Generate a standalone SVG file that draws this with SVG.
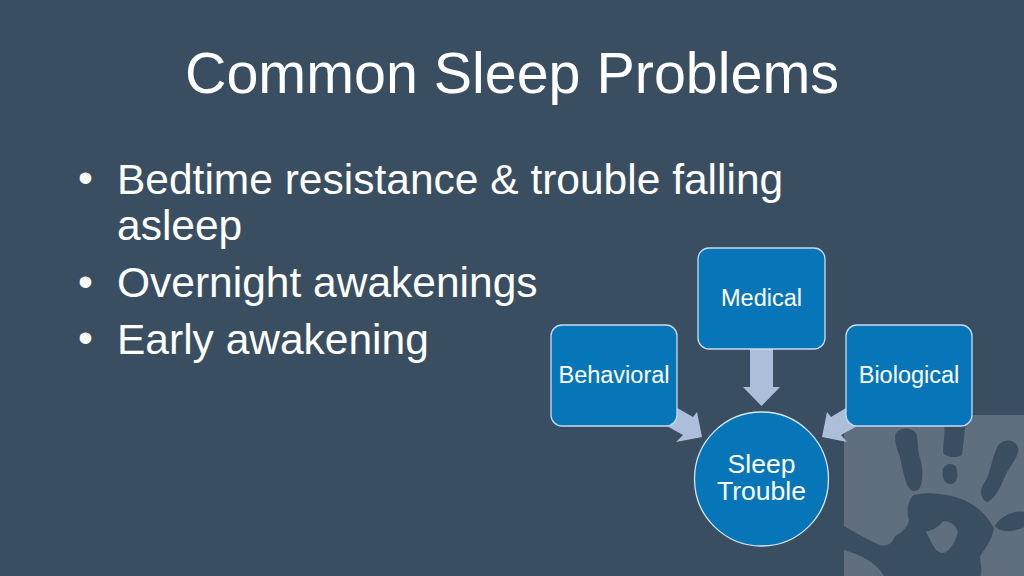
<svg xmlns="http://www.w3.org/2000/svg" width="1024" height="576" viewBox="0 0 1024 576">
<style>
text{font-family:"Liberation Sans",Arial,sans-serif;fill:#fff}
.b{font-size:42.500px}
.n{font-size:23.500px;text-anchor:middle}
.box{fill:#0776b9;stroke:#c5dcf0;stroke-width:1.300}
.ar{fill:#adbedb}
.h{fill:#3a4e61}
</style>
<rect width="1024" height="576" fill="#3a4e61"/>
<g id="handprint">
<rect x="844" y="415" width="180" height="161" fill="#5f6f7f"/>
<g transform="translate(824 400) scale(.3333)" class="h">
<path d="M214 105C218 85 260 75 276 100C284 125 280 150 288 175C298 205 298 250 285 268C265 282 250 265 244 240C236 210 230 180 226 165C216 140 212 125 214 105Z"/>
<path d="M360 60L424 60C422 105 418 135 414 165C395 175 370 172 358 160C355 135 365 110 360 60Z"/>
<path d="M356 210C360 190 390 185 398 205C402 225 402 245 385 252C365 256 352 235 356 210Z"/>
<path d="M520 140C535 115 575 115 583 145C585 170 560 195 545 225C530 260 515 295 490 306C470 300 465 270 480 250C495 235 505 170 520 140Z"/>
<path d="M60 378C90 395 130 420 170 436C190 440 205 430 212 410C235 395 250 385 255 360C245 330 255 295 270 285C310 275 370 280 420 300C465 320 495 355 510 385C505 420 480 450 468 470C470 495 475 510 470 528L180 528C165 500 130 470 60 450Z"/>
<path d="M512 378C530 350 570 330 600 335L600 382C570 395 530 400 512 378Z"/>
<path d="M305 393C320 395 345 380 355 365C375 360 395 375 402 395C395 420 380 455 355 460C330 455 320 420 305 393Z" fill="#5f6f7f"/>
</g>
</g>
<text x="185" y="93" font-size="57.400">Common Sleep Problems</text>
<g class="b">
<text x="78" y="192">•</text><text x="117" y="194">Bedtime resistance &amp; trouble falling</text>
<text x="117" y="240">asleep</text>
<text x="78" y="296">•</text><text x="117" y="297">Overnight awakenings</text>
<text x="78" y="352">•</text><text x="117" y="354">Early awakening</text>
</g>
<g id="connectors" class="ar">
<path d="M750 349H773V387H780L761.500 406L743 387H750Z"/>
<path d="M672 405L693 417L697 412L702 437L676 442L683 435L665 425Z"/>
<path d="M851 405L831 417L827 412L822 437L847 442L841 435L859 425Z"/>
</g>
<g id="medical"><rect class="box" x="698" y="248" width="127" height="101" rx="11"/><text class="n" x="761.500" y="306">Medical</text></g>
<g id="behavioral"><rect class="box" x="551" y="325" width="126" height="101" rx="11"/><text class="n" x="614" y="383">Behavioral</text></g>
<g id="biological"><rect class="box" x="846" y="325" width="126" height="101" rx="11"/><text class="n" x="909" y="383">Biological</text></g>
<g id="sleep-trouble"><circle cx="761.500" cy="479" r="67" fill="#0776b9" stroke="#d5e6f5" stroke-width="1.300"/><text font-size="26.500" text-anchor="middle"><tspan x="761.500" y="473">Sleep</tspan><tspan x="761.500" y="500">Trouble</tspan></text></g>
</svg>
